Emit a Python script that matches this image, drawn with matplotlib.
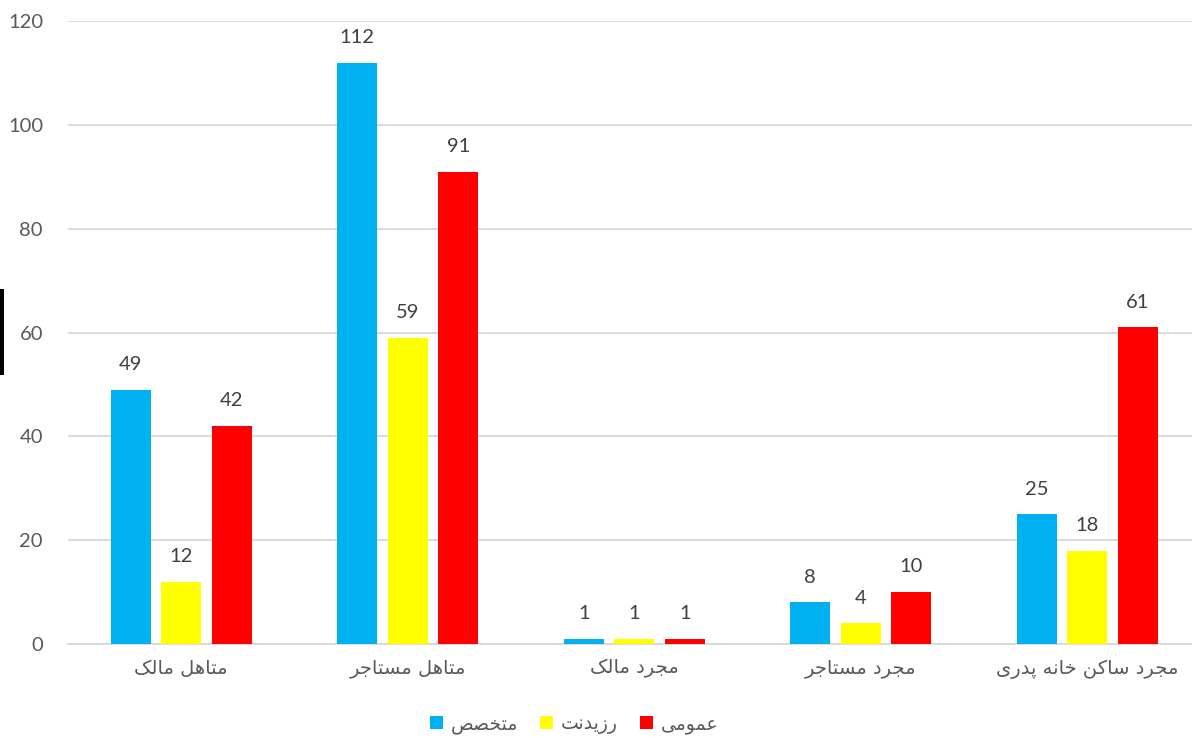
import matplotlib
matplotlib.use("Agg")
import matplotlib.pyplot as plt
import numpy as np
from matplotlib.patches import Patch, Rectangle

# داده ها
categories = ["متاهل مالک", "متاهل مستاجر", "مجرد مالک", "مجرد مستاجر", "مجرد ساکن خانه پدری"]
series_names = ["متخصص", "رزیدنت", "عمومی"]
motekhases = [49, 112, 1, 8, 25]
resident = [12, 59, 1, 4, 18]
omoomi = [42, 91, 1, 10, 61]
colors = ["#00b0f0", "#ffff00", "#ff0000"]
yticks = [0, 20, 40, 60, 80, 100, 120]

# شکل دادن حروف فارسی (matplotlib خودش انجام نمیدهد)
FORMS = {
    "ا": ("\uFE8D", "\uFE8E", None, None),
    "ت": ("\uFE95", "\uFE96", "\uFE97", "\uFE98"),
    "ج": ("\uFE9D", "\uFE9E", "\uFE9F", "\uFEA0"),
    "خ": ("\uFEA5", "\uFEA6", "\uFEA7", "\uFEA8"),
    "د": ("\uFEA9", "\uFEAA", None, None),
    "ر": ("\uFEAD", "\uFEAE", None, None),
    "ز": ("\uFEAF", "\uFEB0", None, None),
    "س": ("\uFEB1", "\uFEB2", "\uFEB3", "\uFEB4"),
    "ص": ("\uFEB9", "\uFEBA", "\uFEBB", "\uFEBC"),
    "ع": ("\uFEC9", "\uFECA", "\uFECB", "\uFECC"),
    "ل": ("\uFEDD", "\uFEDE", "\uFEDF", "\uFEE0"),
    "م": ("\uFEE1", "\uFEE2", "\uFEE3", "\uFEE4"),
    "ن": ("\uFEE5", "\uFEE6", "\uFEE7", "\uFEE8"),
    "ه": ("\uFEE9", "\uFEEA", "\uFEEB", "\uFEEC"),
    "و": ("\uFEED", "\uFEEE", None, None),
    "ک": ("\uFB8E", "\uFB8F", "\uFB90", "\uFB91"),
    "پ": ("\uFB56", "\uFB57", "\uFB58", "\uFB59"),
    "ی": ("\uFBFC", "\uFBFD", "\uFBFE", "\uFBFF"),
}


def fa(text):
    out = []
    for i, ch in enumerate(text):
        if ch not in FORMS:
            out.append(ch)
            continue
        prev = text[i - 1] if i > 0 else None
        nxt = text[i + 1] if i + 1 < len(text) else None
        join_prev = prev in FORMS and FORMS[prev][2] is not None
        join_next = nxt in FORMS and FORMS[ch][2] is not None
        iso, fin, ini, med = FORMS[ch]
        if join_prev and join_next:
            out.append(med)
        elif join_prev:
            out.append(fin)
        elif join_next:
            out.append(ini)
        else:
            out.append(iso)
    return "".join(reversed(out))


num_font = ["Lato", "DejaVu Sans"]
fa_font = ["DejaVu Sans"]

fig = plt.figure(figsize=(11.92, 7.38), dpi=100)
ax = fig.add_axes([68 / 1192, 94 / 738, 1132.5 / 1192, 623 / 738])

x = np.arange(len(categories))
w = 40 / 226.5
step = 50.5 / 226.5
for k, (vals, c) in enumerate(zip([motekhases, resident, omoomi], colors)):
    bars = ax.bar(x + (k - 1) * step, vals, width=w, color=c, zorder=3)
    for b, v in zip(bars, vals):
        ax.text(b.get_x() + b.get_width() / 2, v + 3.2, str(v), ha="center", va="bottom",
                fontsize=14.5, color="#404040", family=num_font)

ax.set_xlim(-0.5, 4.5)
ax.set_ylim(0, 120)
ax.set_yticks(yticks)
ax.set_yticklabels([str(t) for t in yticks], family=num_font, fontsize=14.5, color="#595959")
ax.set_xticks(x)
ax.set_xticklabels([fa(c) for c in categories], family=fa_font, fontsize=14, color="#595959")
ax.tick_params(axis="both", length=0)
ax.tick_params(axis="y", pad=18)
ax.tick_params(axis="x", pad=11)
ax.grid(axis="y", color="#d9d9d9", linewidth=1.3, zorder=0)
for s in ["top", "right", "left"]:
    ax.spines[s].set_visible(False)
ax.spines["bottom"].set_color("#d9d9d9")
ax.spines["bottom"].set_linewidth(1.3)

handles = [Patch(facecolor=c, edgecolor="none") for c in colors]
fig.legend(handles, [fa(s) for s in series_names], loc="center", bbox_to_anchor=(574 / 1192, 1 - 724 / 738),
           ncol=3, frameon=False, prop={"family": fa_font, "size": 13.5}, labelcolor="#595959",
           handlelength=0.7, handleheight=0.7, handletextpad=0.4, columnspacing=1.2)

# خط سیاه کنار تصویر
fig.patches.append(Rectangle((0, 1 - 375 / 738), 4 / 1192, 86 / 738, transform=fig.transFigure,
                             facecolor="black", edgecolor="none"))

fig.savefig("out.png", dpi=100)
